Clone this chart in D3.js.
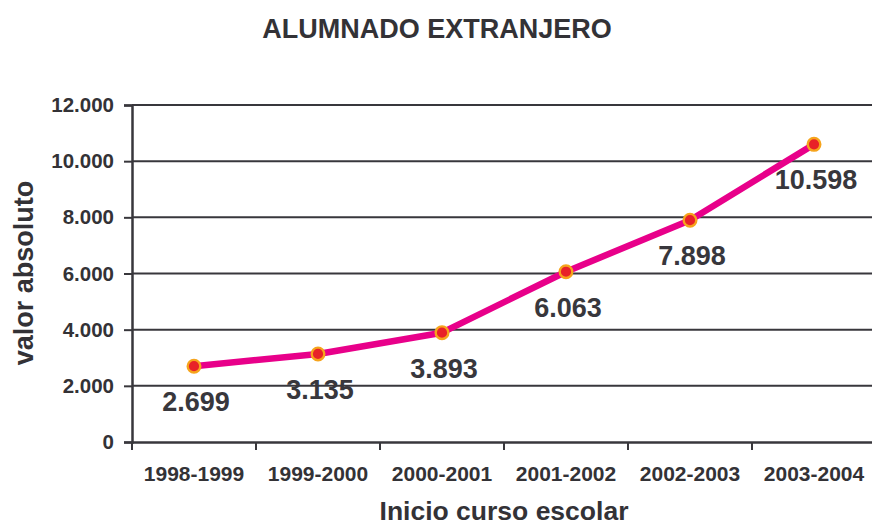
<!DOCTYPE html>
<html>
<head>
<meta charset="utf-8">
<script src="https://cdn.jsdelivr.net/npm/d3@7"></script>
<style>
  body { margin: 0; background: #fff; }
  svg { font-family: Arial, "Liberation Sans", Helvetica, sans-serif; font-weight: bold; }
</style>
</head>
<body>
<div id="chart"></div>
<script>
"use strict";

var cursos = ["1998-1999", "1999-2000", "2000-2001", "2001-2002", "2002-2003", "2003-2004"];
var alumnos = [2699, 3135, 3893, 6063, 7898, 10598];
var yTicks = [0, 2000, 4000, 6000, 8000, 10000, 12000];

var W = 872, H = 525;
var plotLeft = 132, plotRight = 876, plotTop = 105, plotBottom = 442;
var GRID = "#38373c";
var TEXT = "#333236";

var svg = d3.select("#chart").append("svg")
    .attr("width", W)
    .attr("height", H);

var x = d3.scaleBand().domain(cursos).range([plotLeft, plotRight]);
var y = d3.scaleLinear().domain([0, 12000]).range([plotBottom, plotTop]);

// number format with dot as thousands separator
var fmt = d3.formatLocale({ decimal: ",", thousands: ".", grouping: [3], currency: ["", ""] }).format(",d");

// Gridlines
svg.append("g").selectAll("line")
    .data(yTicks.slice(1))
    .enter().append("line")
    .attr("x1", plotLeft).attr("x2", plotRight)
    .attr("y1", function (d) { return y(d); })
    .attr("y2", function (d) { return y(d); })
    .style("stroke", GRID)
    .style("stroke-width", 2);

// Y axis
var yAxis = svg.append("g")
    .attr("transform", "translate(" + plotLeft + ",0)")
    .call(d3.axisLeft(y).tickValues(yTicks).tickFormat(fmt).tickSize(8).tickPadding(10));
yAxis.attr("font-family", null);
yAxis.select(".domain").style("stroke", GRID).style("stroke-width", 2.5);
yAxis.selectAll(".tick line").style("stroke", GRID).style("stroke-width", 2);
yAxis.selectAll("text").style("font-size", "20.5px").style("fill", TEXT);

// X axis
var xAxis = svg.append("g")
    .attr("transform", "translate(0," + plotBottom + ")")
    .call(d3.axisBottom(x).tickSize(0).tickPadding(24));
xAxis.attr("font-family", null);
xAxis.select(".domain").style("stroke", GRID).style("stroke-width", 2.5);
xAxis.selectAll("text").style("font-size", "21px").style("fill", TEXT);

// category separators
svg.append("g").selectAll("line")
    .data(cursos)
    .enter().append("line")
    .attr("x1", function (d) { return x(d); })
    .attr("x2", function (d) { return x(d); })
    .attr("y1", plotBottom).attr("y2", plotBottom + 8)
    .style("stroke", GRID)
    .style("stroke-width", 2);

var cx = function (d, i) { return x(cursos[i]) + x.bandwidth() / 2; };

// Line
var line = d3.line()
    .x(function (d, i) { return cx(d, i); })
    .y(function (d) { return y(d); });

svg.append("path")
    .attr("d", line(alumnos))
    .style("fill", "none")
    .style("stroke", "#e8008a")
    .style("stroke-width", 6.5)
    .style("stroke-linejoin", "round");

// Markers
svg.append("g").selectAll("circle")
    .data(alumnos)
    .enter().append("circle")
    .attr("cx", cx)
    .attr("cy", function (d) { return y(d); })
    .attr("r", 6.3)
    .style("fill", "#e82228")
    .style("stroke", "#f6a41c")
    .style("stroke-width", 2.4);

// Value labels
svg.append("g").selectAll("text")
    .data(alumnos)
    .enter().append("text")
    .attr("x", function (d, i) { return cx(d, i) + 2; })
    .attr("y", function (d) { return y(d) + 45; })
    .attr("text-anchor", "middle")
    .style("font-size", "27px")
    .style("fill", "#38373c")
    .text(function (d) { return fmt(d); });

// Titles
svg.append("text")
    .attr("x", 437).attr("y", 38)
    .attr("text-anchor", "middle")
    .style("font-size", "27px")
    .style("fill", TEXT)
    .text("ALUMNADO EXTRANJERO");

svg.append("text")
    .attr("transform", "translate(33,273) rotate(-90)")
    .attr("text-anchor", "middle")
    .style("font-size", "27px")
    .style("fill", TEXT)
    .text("valor absoluto");

svg.append("text")
    .attr("x", 504).attr("y", 520)
    .attr("text-anchor", "middle")
    .style("font-size", "26.5px")
    .style("fill", TEXT)
    .text("Inicio curso escolar");
</script>
</body>
</html>
